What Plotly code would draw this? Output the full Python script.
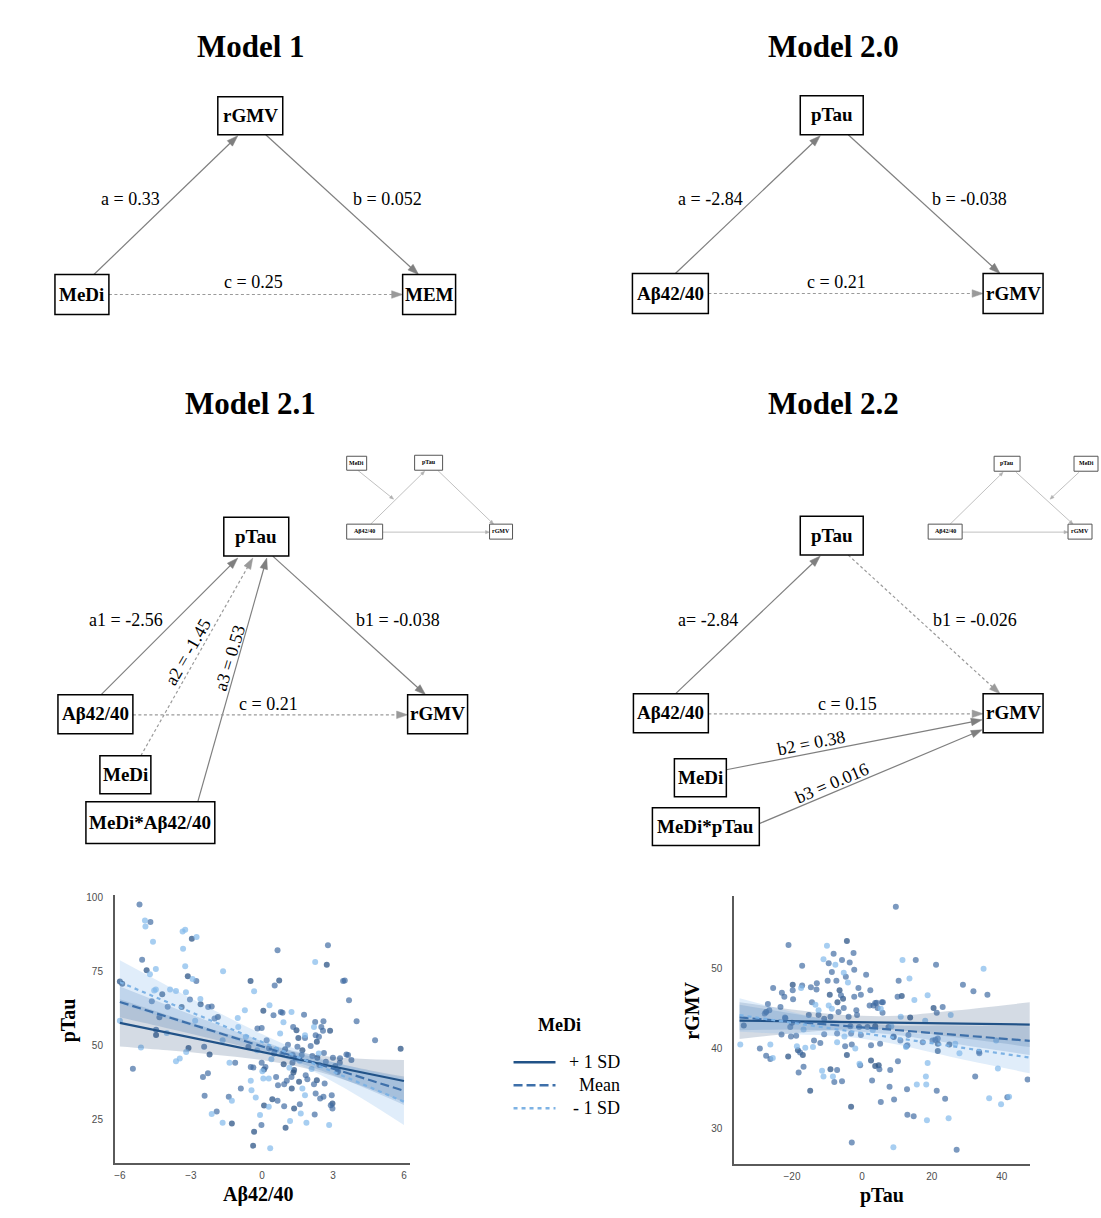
import math
import plotly.graph_objects as go

W, H = 1101, 1218
SERIF = "Liberation Serif, Times New Roman, serif"
SANS = "Liberation Sans, Arial, sans-serif"

# ---------------- data: left panel (Aβ42/40 -> pTau, moderated by MeDi) ----------------
ab_hi_x = [-6.0, -5.9, -4.87, -4.47, -4.21, -3.13, -3.39, -2.96, -3.10, -2.59, -2.21, -1.86, -1.27, -0.48,
           -0.33, -0.37, 0.09, 0.09, 0.06, 0.73, 0.44, 0.98, 0.92, 1.00, 1.46, 1.36, 1.33, 1.26, 1.36, 1.54,
           1.57, 1.71, 2.32, 2.34, 2.32, 2.74, 2.88, 2.98, 5.86, 3.1, 3.2]
ab_hi_y = [71.6, 70.9, 75.4, 53.5, 67.3, 73.4, 63.0, 86.1, 49.1, 63.9, 46.9, 59.6, 23.5, 71.8,
           20.7, 16.0, 41.8, 29.6, 61.7, 72.0, 31.7, 48.7, 43.6, 22.1, 55.1, 41.6, 40.8, 35.4, 28.6, 52.5,
           37.7, 48.3, 51.2, 45.8, 38.2, 77.3, 54.9, 30.3, 48.8, 43.0, 41.0]
ab_mid_x = [-5.45, -5.17, -4.71, -5.06, -4.65, -4.33, -4.47, -3.98, -3.04, -2.77, -2.44, -2.27, -2.12, -2.49,
            -2.28, -2.42, -1.91, -2.00, -1.13, -1.40, -0.89, -0.57, -0.47, -0.36, -0.19, -0.01, -0.02, -0.01,
            0.15, 0.20, 0.49, 0.54, 0.66, 0.51, 0.60, 0.68, 0.66, 0.80, 0.87, 0.87, 0.94, 1.05, 0.94, 1.29,
            1.25, 1.32, 1.30, 1.43, 1.50, 1.60, 1.68, 1.78, 1.82, 1.85, 1.92, 2.06, 2.13, 2.25, 2.27, 2.41,
            2.43, 2.20, 2.27, 2.46, 2.60, 2.23, 2.51, 2.60, 2.58, 2.62, 2.70, 2.65, 2.79, 2.91, 2.98, 2.95,
            3.22, 3.29, 3.43, 3.50, 3.57, 3.64, 3.78, 3.68, 4.00, 4.78, 0.3, 1.1, 3.3, 3.0]
ab_mid_y = [42.1, 97.7, 91.8, 79.0, 64.9, 59.5, 55.3, 63.1, 65.5, 71.8, 49.5, 63.0, 63.2, 39.3,
            40.5, 32.9, 27.6, 59.1, 44.1, 32.6, 35.4, 49.5, 42.7, 42.5, 55.7, 55.9, 23.0, 44.1,
            42.7, 51.7, 60.2, 70.3, 82.2, 47.2, 39.3, 36.5, 31.2, 61.3, 61.0, 47.2, 36.8, 38.0, 29.4, 44.1,
            39.3, 56.2, 46.7, 45.5, 49.5, 30.0, 46.7, 60.4, 52.5, 39.9, 38.5, 49.8, 46.4, 57.9, 53.4, 52.9,
            43.3, 36.8, 33.7, 32.0, 32.6, 26.6, 56.2, 58.2, 54.9, 47.4, 44.4, 37.1, 83.9, 29.7, 28.6, 33.1,
            41.4, 44.1, 71.8, 72.0, 46.9, 46.7, 45.0, 65.3, 58.2, 51.7, 49.0, 50.2, 45.6, 45.8]
ab_lo_x = [-6.0, -4.94, -4.92, -5.11, -4.73, -4.60, -4.48, -4.55, -4.48, -4.02, -3.88, -3.63, -3.63, -3.47,
           -3.35, -3.24, -3.33, -3.24, -3.21, -2.76, -2.93, -2.82, -3.20, -2.60, -2.12, -1.66, -1.64, -1.66,
           -1.37, -1.27, -1.02, -1.00, -0.72, -0.68, -0.33, -0.47, -0.44, -0.26, -0.08, 0.02, 0.06, 0.29,
           0.29, 0.32, 0.35, 0.77, 0.91, 1.16, 1.25, 1.19, 1.71, 1.64, 1.82, 1.82, 1.88, 2.20, 2.25, 2.84,
           0.6, 2.4, 2.1, 1.6, 0.4, -0.2]
ab_lo_y = [58.3, 92.3, 90.3, 49.3, 74.1, 85.1, 75.9, 68.6, 68.9, 54.2, 68.9, 68.4, 44.6, 45.5,
           88.6, 89.2, 82.7, 76.8, 68.0, 86.7, 72.5, 58.3, 47.7, 65.7, 26.7, 51.7, 75.1, 23.8,
           44.1, 31.2, 59.3, 56.2, 61.9, 52.9, 68.3, 38.0, 34.8, 32.3, 26.4, 41.2, 38.8, 38.8,
           29.2, 63.6, 15.1, 54.0, 57.8, 42.4, 61.3, 24.4, 35.4, 26.9, 53.4, 33.1, 23.8, 56.2, 78.2, 23.0,
           48.5, 47.2, 42.0, 44.8, 45.3, 48.3]

ab_grid = [-6, -4, -2, 0, 2, 4, 6]
ab_fit_hi = [57.6, 54.3, 51.0, 47.8, 44.5, 41.2, 37.9]
ab_fit_mid = [64.7, 59.7, 54.7, 49.7, 44.6, 39.6, 34.6]
ab_fit_lo = [71.4, 64.6, 57.9, 51.2, 44.4, 37.7, 30.9]
ab_hi_low = [49.6, 48.3, 46.8, 45.0, 41.9, 36.9, 30.8]
ab_hi_up = [65.6, 60.3, 55.2, 50.6, 47.1, 45.5, 45.0]
ab_mid_low = [59.5, 55.8, 52.0, 47.9, 42.9, 36.7, 29.8]
ab_mid_up = [69.9, 63.6, 57.4, 51.5, 46.3, 42.5, 39.4]
ab_lo_low = [64.0, 59.0, 54.0, 48.6, 41.9, 33.1, 23.0]
ab_lo_up = [78.8, 70.2, 61.8, 53.8, 46.9, 42.3, 38.8]

# ---------------- data: right panel (pTau -> rGMV, moderated by MeDi) ----------------
pt_hi_x = [-33.8, -21.1, -20.0, -19.8, -18.3, -16.9, -14.8, -9.2, -9.0, -7.0, -6.4, -5.4, -4.3, -4.3, -3.1,
           2.6, 3.8, 3.8, 4.8, 11.4, 13.8, 20.5, 21.7, 21.7, 25.0, -27.4, 9.1]
pt_hi_y = [42.9, 39.0, 43.25, 48.0, 39.8, 39.2, 34.7, 46.75, 37.4, 45.8, 47.3, 46.25, 39.2, 53.5, 32.7,
           38.5, 42.8, 37.8, 37.9, 46.6, 43.9, 45.1, 39.7, 40.6, 40.5, 44.6, 41.45]
pt_mid_x = [-29.2, -27.4, -26.2, -27.8, -26.9, -26.5, -25.4, -23.3, -23.0, -22.9, -22.2, -21.9, -21.0, -20.5,
            -20.3, -19.8, -19.7, -18.8, -18.1, -17.7, -17.1, -17.1, -16.7, -15.2, -14.6, -14.3, -13.0, -12.9,
            -12.4, -11.9, -10.8, -10.8, -9.8, -9.5, -9.0, -8.6, -7.9, -8.1, -7.3, -7.1, -7.1, -6.7, -6.0,
            -5.7, -5.7, -5.2, -4.8, -4.6, -3.8, -3.5, -3.3, -3.1, -2.9, -2.9, -2.4, -2.2, -2.2, -1.6, -1.4,
            -1.0, -0.8, -0.5, -0.3, -0.3, 1.2, 1.6, 2.2, 2.4, 2.6, 2.9, 3.3, 3.8, 4.5, 5.0, 5.2, 5.4, 5.7,
            5.9, 7.6, 7.9, 8.1, 9.0, 9.2, 9.7, 10.2, 10.3, 10.5, 11.0, 12.9, 13.0, 13.0, 13.3, 14.8, 15.4,
            17.4, 21.0, 21.2, 21.4, 21.7, 21.4, 23.1, 23.8, 27.1, 28.9, 31.9, 32.4, 33.6, 35.9, 41.6, 47.4,
            -22.0, -13.7, 4.2, 6.0, 12.7, 20.2, 33.5]
pt_mid_y = [40.0, 39.1, 38.7, 44.4, 45.6, 44.8, 47.6, 45.2, 41.75, 47.0, 46.5, 43.8, 53.0, 42.7,
            41.5, 47.3, 46.2, 41.6, 37.0, 39.5, 47.9, 50.4, 37.7, 44.2, 47.7, 45.8, 47.4, 48.2,
            44.2, 40.7, 43.75, 41.8, 48.5, 50.7, 44.0, 49.6, 35.8, 51.9, 48.5, 41.9, 37.3, 44.6, 46.7,
            51.1, 35.9, 45.1, 40.3, 49.0, 44.0, 50.8, 42.8, 41.9, 28.2, 40.5, 52.0, 49.9, 46.5, 44.8, 44.2,
            47.6, 42.7, 37.9, 46.75, 41.7, 49.25, 42.7, 45.4, 47.3, 40.4, 36.0, 45.4, 45.7, 45.1, 37.4, 40.6, 33.3, 45.8,
            44.5, 42.7, 35.2, 37.3, 41.5, 33.6, 57.8, 46.5, 38.4, 48.5, 41.0, 34.9, 31.7, 40.4, 41.7, 31.5, 51.1,
            40.8, 41.1, 50.5, 44.5, 41.25, 34.7, 45.2, 33.7, 27.3, 48.0, 47.2, 36.5, 39.4, 46.75, 33.9, 36.1,
            43.9, 41.0, 45.75, 45.8, 40.3, 41.0, 39.6]
pt_lo_x = [-34.8, -26.2, -18.6, -17.4, -16.7, -16.2, -14.0, -13.3, -12.4, -11.4, -11.0, -11.0, -10.0, -9.5,
           -8.3, -8.6, -7.6, -7.1, -5.2, -5.0, -4.0, -1.9, -0.7, 3.1, 5.4, 8.4, 9.0, 11.1, 11.6, 12.6, 13.6,
           15.0, 15.7, 18.1, 18.3, 18.4, 18.6, 18.8, 18.8, 24.8, 25.4, 26.7, 27.9, 34.8, 36.4, 38.4, 38.9,
           39.8, 42.1, -25.5]
pt_lo_y = [40.5, 40.5, 40.3, 47.6, 42.4, 40.1, 40.2, 45.5, 44.8, 37.2, 36.5, 51.2, 52.9, 45.4,
           36.5, 45.0, 50.5, 40.8, 49.5, 41.5, 48.3, 40.0, 38.1, 42.3, 45.0, 42.8, 27.6, 44.0, 51.1, 40.2, 48.8,
           46.1, 35.5, 43.5, 36.5, 35.5, 31.0, 46.7, 38.2, 31.25, 44.2, 40.6, 39.4, 50.0, 33.75, 41.0, 37.5,
           33.0, 33.95, 38.8]

pt_grid = [-35, -20, -5, 10, 25, 48]
pt_fit_hi = [43.5, 43.41, 43.32, 43.23, 43.14, 43.0]
pt_fit_mid = [43.9, 43.37, 42.84, 42.31, 41.78, 40.97]
pt_fit_lo = [44.2, 43.24, 42.27, 41.31, 40.34, 38.86]
pt_hi_low = [41.2, 41.9, 42.4, 42.3, 41.5, 40.2]
pt_hi_up = [45.8, 44.9, 44.2, 44.1, 44.7, 45.8]
pt_mid_low = [42.3, 42.4, 42.2, 41.7, 40.7, 39.2]
pt_mid_up = [45.5, 44.4, 43.4, 42.9, 42.9, 42.8]
pt_lo_low = [42.1, 41.8, 41.5, 40.5, 39.0, 36.9]
pt_lo_up = [46.3, 44.6, 43.1, 42.1, 41.6, 40.9]

ab_ticks = [-6, -3, 0, 3, 6]
ptau_ticks = [25, 50, 75, 100]
pt_ticks = [-20, 0, 20, 40]
rgmv_ticks = [30, 40, 50]

legend_title = "MeDi"
legend_labels = ["+ 1 SD", "Mean", "- 1 SD"]

# ---------------- styles ----------------
HI_C, MID_C, LO_C = "rgb(33,82,135)", "rgb(62,112,170)", "rgb(125,178,228)"
HI_PT, MID_PT, LO_PT = "rgba(45,85,135,0.75)", "rgba(60,105,160,0.68)", "rgba(130,185,235,0.7)"
HI_BAND, MID_BAND, LO_BAND = "rgba(40,75,120,0.20)", "rgba(60,110,170,0.22)", "rgba(130,185,235,0.25)"
DASHES = {"hi": "solid", "mid": "9px,4px", "lo": "4px,4px"}

fig = go.Figure()


def add_panel(xa, ya, pts, grid, fits, bands):
    for (xs, ys), col in zip(pts, [HI_PT, MID_PT, LO_PT]):
        fig.add_trace(go.Scatter(x=xs, y=ys, mode="markers", xaxis=xa, yaxis=ya, showlegend=False,
                                 marker=dict(size=6, color=col, line=dict(width=0)), hoverinfo="skip"))
    for (lo, up), col in zip(bands, [HI_BAND, MID_BAND, LO_BAND]):
        fig.add_trace(go.Scatter(x=grid, y=lo, mode="lines", xaxis=xa, yaxis=ya, showlegend=False,
                                 line=dict(width=0, shape="spline"), hoverinfo="skip"))
        fig.add_trace(go.Scatter(x=grid, y=up, mode="lines", xaxis=xa, yaxis=ya, showlegend=False,
                                 fill="tonexty", fillcolor=col, line=dict(width=0, shape="spline"),
                                 hoverinfo="skip"))
    for ys, col, key, name in zip(fits, [HI_C, MID_C, LO_C], ["hi", "mid", "lo"], legend_labels):
        fig.add_trace(go.Scatter(x=grid, y=ys, mode="lines", xaxis=xa, yaxis=ya, showlegend=False, name=name,
                                 line=dict(color=col, width=2.2, dash=DASHES[key])))


add_panel("x", "y", [(ab_hi_x, ab_hi_y), (ab_mid_x, ab_mid_y), (ab_lo_x, ab_lo_y)], ab_grid,
          [ab_fit_hi, ab_fit_mid, ab_fit_lo],
          [(ab_hi_low, ab_hi_up), (ab_mid_low, ab_mid_up), (ab_lo_low, ab_lo_up)])
add_panel("x2", "y2", [(pt_hi_x, pt_hi_y), (pt_mid_x, pt_mid_y), (pt_lo_x, pt_lo_y)], pt_grid,
          [pt_fit_hi, pt_fit_mid, pt_fit_lo],
          [(pt_hi_low, pt_hi_up), (pt_mid_low, pt_mid_up), (pt_lo_low, pt_lo_up)])

# ---------------- diagram helpers (pixel -> paper) ----------------
shapes, annotations = [], []


def PX(x):
    return x / W


def PY(y):
    return 1 - y / H


def text(x, y, s, size=18, bold=False, angle=0, anchor="center", color="black", family=SERIF):
    annotations.append(dict(x=PX(x), y=PY(y), xref="paper", yref="paper", showarrow=False,
                            text=f"<b>{s}</b>" if bold else s, textangle=angle,
                            xanchor=anchor, yanchor="middle",
                            font=dict(family=family, size=size, color=color)))


def box(x0, y0, x1, y1, label, size=19, lw=1.5, lc="black"):
    shapes.append(dict(type="rect", xref="paper", yref="paper", x0=PX(x0), x1=PX(x1), y0=PY(y1), y1=PY(y0),
                       line=dict(color=lc, width=lw), fillcolor="white", layer="above"))
    text((x0 + x1) / 2, (y0 + y1) / 2 - 0.5, label, size=size, bold=True)


def arrow(x0, y0, x1, y1, dash="solid", color="#7f7f7f", width=1.2, hl=11, hw=3.8):
    dx, dy = x1 - x0, y1 - y0
    L = math.hypot(dx, dy)
    ux, uy = dx / L, dy / L
    bx, by = x1 - ux * hl, y1 - uy * hl
    shapes.append(dict(type="line", xref="paper", yref="paper", x0=PX(x0), y0=PY(y0), x1=PX(bx + ux * 2),
                       y1=PY(by + uy * 2), line=dict(color=color, width=width, dash=dash)))
    nx, ny = -uy, ux
    pts = [(x1, y1), (bx + nx * hw, by + ny * hw), (bx - nx * hw, by - ny * hw)]
    path = "M " + " L ".join(f"{PX(a):.6f},{PY(b):.6f}" for a, b in pts) + " Z"
    shapes.append(dict(type="path", xref="paper", yref="paper", path=path, fillcolor=color,
                       line=dict(color=color, width=0.5)))


DOT = "3px,2.5px"
DOTC = "#9a9a9a"

# Model 1
text(250, 45, "Model 1", size=31, bold=True)
arrow(93, 273, 237, 134)
arrow(265, 133, 418, 273)
arrow(108, 293, 402, 293, dash=DOT, color=DOTC)
box(217, 95, 282, 133, "rGMV")
box(54, 273, 108, 313, "MeDi")
box(402, 273, 455, 313, "MEM")
text(130, 197, "a = 0.33")
text(387, 197, "b = 0.052")
text(253, 280, "c = 0.25")

# Model 2.0
text(833, 45, "Model 2.0", size=31, bold=True)
arrow(675, 272, 820, 134)
arrow(848, 133, 1000, 272)
arrow(708, 292, 983, 292, dash=DOT, color=DOTC)
box(800, 94, 863, 133, "pTau")
box(632, 272, 708, 312, "Aβ42/40")
box(983, 272, 1043, 312, "rGMV")
text(710, 197, "a = -2.84")
text(969, 197, "b = -0.038")
text(836, 280, "c = 0.21")

# Model 2.1
text(250, 402, "Model 2.1", size=31, bold=True)
arrow(100, 694, 237, 557)
arrow(140, 755, 252, 557, dash=DOT, color=DOTC)
arrow(197, 801, 266, 557)
arrow(272, 555, 425, 694)
arrow(132, 714, 407, 714, dash=DOT, color=DOTC)
box(223, 516, 288, 555, "pTau")
box(57, 694, 132, 733, "Aβ42/40")
box(407, 694, 467, 733, "rGMV")
box(99, 755, 150, 793, "MeDi")
box(85, 801, 214, 843, "MeDi*Aβ42/40")
text(125, 619, "a1 = -2.56")
text(187, 651, "a2 = -1.45", angle=-60)
text(229, 657, "a3 = 0.53", angle=-73)
text(397, 619, "b1 = -0.038")
text(268, 703, "c = 0.21")

# inset for Model 2.1
IC, IL = "#b0b0b0", "#555555"
arrow(370, 523, 424, 470, color=IC, width=0.8, hl=4, hw=1.6)
arrow(357, 469, 393, 498, color=IC, width=0.8, hl=4, hw=1.6)
arrow(437, 469, 493, 523, color=IC, width=0.8, hl=4, hw=1.6)
arrow(382, 531, 489, 531, color=IC, width=0.8, hl=4, hw=1.6)
box(346, 455, 366, 469, "MeDi", size=6, lw=1, lc=IL)
box(414, 454, 442, 469, "pTau", size=6, lw=1, lc=IL)
box(346, 523, 382, 538, "Aβ42/40", size=6, lw=1, lc=IL)
box(489, 523, 512, 538, "rGMV", size=6, lw=1, lc=IL)

# Model 2.2
text(833, 402, "Model 2.2", size=31, bold=True)
arrow(675, 693, 820, 555)
arrow(848, 554, 1000, 693, dash=DOT, color=DOTC)
arrow(708, 713, 983, 713, dash=DOT, color=DOTC)
arrow(726, 769, 982, 719)
arrow(759, 823, 982, 729)
box(800, 515, 863, 554, "pTau")
box(633, 693, 708, 732, "Aβ42/40")
box(983, 693, 1043, 732, "rGMV")
box(674, 758, 726, 796, "MeDi")
box(652, 807, 759, 845, "MeDi*pTau")
text(708, 619, "a= -2.84")
text(975, 619, "b1 = -0.026")
text(847, 703, "c = 0.15")
text(811, 742, "b2 = 0.38", angle=-11)
text(832, 782, "b3 = 0.016", angle=-23)

# inset for Model 2.2
arrow(950, 523, 1003, 471, color=IC, width=0.8, hl=4, hw=1.6)
arrow(1016, 471, 1073, 523, color=IC, width=0.8, hl=4, hw=1.6)
arrow(1079, 471, 1050, 498, color=IC, width=0.8, hl=4, hw=1.6)
arrow(962, 531, 1068, 531, color=IC, width=0.8, hl=4, hw=1.6)
box(994, 455, 1020, 470, "pTau", size=6, lw=1, lc=IL)
box(1074, 455, 1098, 470, "MeDi", size=6, lw=1, lc=IL)
box(928, 523, 962, 538, "Aβ42/40", size=6, lw=1, lc=IL)
box(1068, 523, 1092, 538, "rGMV", size=6, lw=1, lc=IL)

# axis titles of the scatter panels
text(67, 1020, "pTau", size=20, bold=True, angle=-90)
text(258, 1194, "Aβ42/40", size=20, bold=True)
text(692, 1010, "rGMV", size=20, bold=True, angle=-90)
text(882, 1195, "pTau", size=20, bold=True)

# legend
text(559, 1025, legend_title, size=18, bold=True)
for yy, col, key, lab in zip([1062, 1085, 1108], [HI_C, MID_C, LO_C], ["hi", "mid", "lo"], legend_labels):
    shapes.append(dict(type="line", xref="paper", yref="paper", x0=PX(513), x1=PX(555), y0=PY(yy), y1=PY(yy),
                       line=dict(color=col, width=2.5, dash=DASHES[key])))
    text(622, yy, lab, size=18, anchor="right")

AX_LINE = dict(showline=True, linecolor="#5a5a5a", linewidth=1.8, showgrid=False, zeroline=False,
               ticks="", tickfont=dict(family=SANS, size=10, color="#4d4d4d"), mirror=False)

fig.update_layout(
    width=W, height=H, margin=dict(l=0, r=0, t=0, b=0),
    paper_bgcolor="white", plot_bgcolor="white", showlegend=False,
    shapes=shapes, annotations=annotations,
    xaxis=dict(domain=[PX(114), PX(409)], range=[-6.21, 6.24], tickvals=ab_ticks, anchor="y",
               ticklabelstandoff=2, **AX_LINE),
    yaxis=dict(domain=[PY(1162.7), PY(894)], range=[10.2, 101.1], tickvals=ptau_ticks, anchor="x",
               ticklabelstandoff=8, **AX_LINE),
    xaxis2=dict(domain=[PX(734), PX(1030)], range=[-36.5, 48.1], tickvals=pt_ticks, anchor="y2",
                ticklabelstandoff=2, **AX_LINE),
    yaxis2=dict(domain=[PY(1164), PY(895)], range=[25.5, 59.2], tickvals=rgmv_ticks, anchor="x2",
                ticklabelstandoff=8, **AX_LINE),
)

fig.write_html("out.html", config={"displayModeBar": False},
               post_script="document.body.style.margin='0';document.body.style.overflow='hidden';")
